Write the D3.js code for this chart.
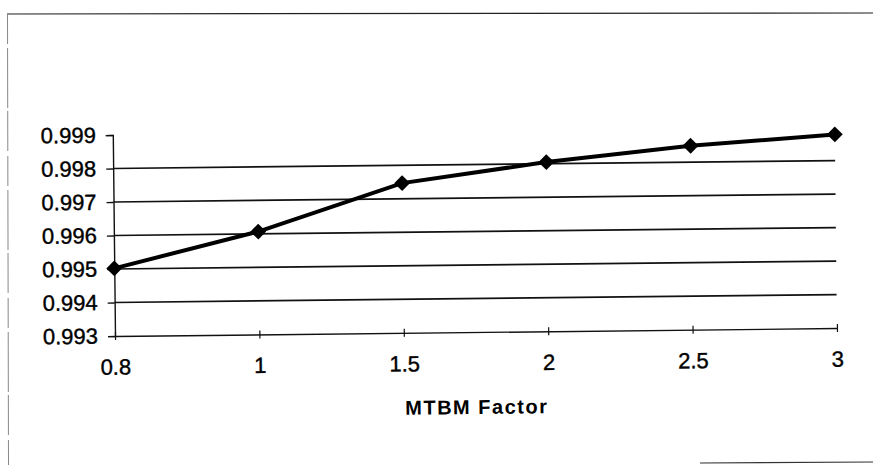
<!DOCTYPE html>
<html>
<head>
<meta charset="utf-8">
<script src="https://cdn.jsdelivr.net/npm/d3@7"></script>
<style>
  body { margin: 0; background: #fff; }
  svg { display: block; }
</style>
</head>
<body>
<div id="chart"></div>
<script>
// data
const factors = ["0.8", "1", "1.5", "2", "2.5", "3"]
const availability = [0.99502, 0.99607, 0.99747, 0.99805, 0.99849, 0.99878]
const yTicks = [0.993, 0.994, 0.995, 0.996, 0.997, 0.998, 0.999]
const xTitle = "MTBM Factor"

const width = 873, height = 465
const plotLeft = 115, plotRight = 837, plotTop = 135, plotBottom = 336
const tilt = -0.63   // the scan is slightly rotated
const font = "Liberation Sans, Arial, sans-serif"

const svg = d3.select("#chart").append("svg")
    .attr("width", width)
    .attr("height", height)

// frame of the scanned page
svg.append("line")
    .attr("x1", 7).attr("y1", 14).attr("x2", width).attr("y2", 13)
    .attr("stroke", "#222").attr("stroke-width", 1.2)
svg.append("line")
    .attr("x1", 7.5).attr("y1", 14).attr("x2", 8.5).attr("y2", height)
    .attr("stroke", "#888").attr("stroke-width", 1)
    .attr("stroke-dasharray", "30,4,60,3,40,5")
svg.append("line")
    .attr("x1", 700).attr("y1", 463).attr("x2", width).attr("y2", 462)
    .attr("stroke", "#333").attr("stroke-width", 1.2)

const x = d3.scalePoint()
    .domain(factors)
    .range([plotLeft, plotRight])

const y = d3.scaleLinear()
    .domain([0.993, 0.999])
    .range([plotBottom, plotTop])

const g = svg.append("g")
    .attr("transform", `rotate(${tilt}, ${plotLeft}, ${plotBottom})`)

// horizontal gridlines (none on the top tick)
g.append("g")
    .selectAll("line")
    .data(yTicks.slice(1, -1))
    .enter().append("line")
    .attr("x1", plotLeft).attr("x2", plotRight)
    .attr("y1", d => y(d)).attr("y2", d => y(d))
    .attr("stroke", "#111")
    .attr("stroke-width", 1.7)

const yAxis = g.append("g")
    .attr("transform", `translate(${plotLeft},0)`)
    .call(d3.axisLeft(y).tickValues(yTicks).tickFormat(d3.format(".3f")).tickSize(7).tickPadding(10))
yAxis.select(".domain").attr("stroke", "#111").attr("stroke-width", 1.4)
yAxis.selectAll(".tick line").attr("stroke", "#111").attr("stroke-width", 1.4)
yAxis.selectAll("text")
    .style("font-family", font)
    .style("font-size", "22px")
    .attr("fill", "#000")
    .attr("stroke", "#000").attr("stroke-width", 0.4)

const xAxis = g.append("g")
    .attr("transform", `translate(0,${plotBottom})`)
    .call(d3.axisBottom(x).tickSizeInner(4).tickSizeOuter(0).tickPadding(19))
xAxis.select(".domain").attr("stroke", "#111").attr("stroke-width", 1.4)
xAxis.selectAll(".tick line")
    .attr("y1", -4)
    .attr("stroke", "#111").attr("stroke-width", 1.2)
xAxis.selectAll("text")
    .style("font-family", font)
    .style("font-size", "22px")
    .attr("fill", "#000")
    .attr("stroke", "#000").attr("stroke-width", 0.4)

g.append("text")
    .attr("x", (plotLeft + plotRight) / 2)
    .attr("y", 418)
    .attr("text-anchor", "middle")
    .style("font-family", font)
    .style("font-size", "20px")
    .style("font-weight", "bold")
    .style("letter-spacing", "1.5px")
    .attr("fill", "#000")
    .text(xTitle)

const line = d3.line()
    .x((d, i) => x(factors[i]))
    .y(d => y(d))

g.append("path")
    .datum(availability)
    .attr("d", line)
    .attr("fill", "none")
    .attr("stroke", "#000")
    .attr("stroke-width", 4)

const diamond = d3.symbol().type(d3.symbolDiamond2).size(160)
g.selectAll(".marker")
    .data(availability)
    .enter().append("path")
    .attr("class", "marker")
    .attr("transform", (d, i) => `translate(${x(factors[i])},${y(d)})`)
    .attr("d", diamond)
    .attr("fill", "#000")
</script>
</body>
</html>
